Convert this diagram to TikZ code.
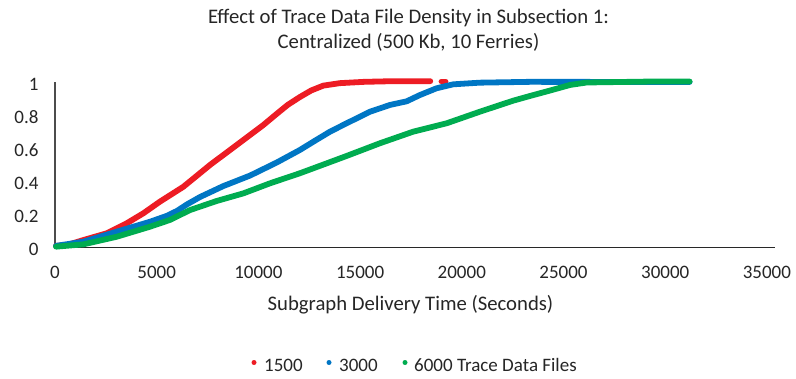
\documentclass[tikz,border=0pt]{standalone}
\usepackage{fontspec}
\setmainfont{Carlito}
\definecolor{serred}{RGB}{237,28,36}
\definecolor{serblue}{RGB}{0,118,196}
\definecolor{sergreen}{RGB}{0,172,80}
\definecolor{axisgray}{RGB}{40,40,40}
\begin{document}
\begin{tikzpicture}[x=1pt,y=1pt,
  lbl/.style={font=\fontsize{19}{22}\selectfont, text=black!85, inner sep=0pt},
  biglbl/.style={lbl, font=\fontsize{20.7}{24}\selectfont},
  series/.style={line width=5.8pt, line cap=round, line join=round},
  legdot/.style={circle, inner sep=0pt, minimum size=5pt}]
\useasboundingbox (0,0) rectangle (796,378);
\fill[white] (0,0) rectangle (796,378);

% title
\node[biglbl] (title1) at (408.5,360.5) {Effect of Trace Data File Density in Subsection 1:};
\node[biglbl] (title2) at (408.5,336) {Centralized (500 Kb, 10 Ferries)};

% plot area: x in thousands of seconds, y as a fraction
\begin{scope}[shift={(55,130.5)}, x=20.34pt, y=165pt]
  % axes
  \draw[line width=1.2pt, black!70] (0,0) -- (0,1.0);
  \draw[line width=1.8pt, axisgray] (0,0) -- (35.4,0);
  % y tick labels
  \foreach \v/\t [count=\i] in {0/0,0.2/0.2,0.4/0.4,0.6/0.6,0.8/0.8,1/1}
    \node[lbl, anchor=east] (yt\i) at (-0.8,\v-0.012) {\t};
  % x tick labels
  \node[lbl] (xt0) at (0,-0.15) {0};
  \foreach \v [count=\i] in {5,10,...,35}
    \node[lbl] (xt\i) at (\v,-0.15) {\v000};

  % 1500 trace data files
  \draw[series, serred] plot coordinates {
    (0.05,0.01) (0.6,0.015) (1.39,0.045) (2.54,0.086) (3.53,0.147) (4.34,0.207)
    (5.16,0.278) (6.31,0.368) (7.62,0.5) (8.93,0.621) (10.24,0.742) (10.9,0.81)
    (11.45,0.865) (12.04,0.912) (12.6,0.952) (13.19,0.981) (14.0,0.996)
    (15.2,1.004) (16.6,1.008) (18.45,1.008)};
  \draw[series, serred] (19.0,1.006) -- (19.2,1.006);

  % 3000 trace data files
  \draw[series, serblue] plot coordinates {
    (0.05,0.01) (1.39,0.035) (3.03,0.096) (4.67,0.156) (5.5,0.192) (6.0,0.222)
    (6.5,0.262) (7.13,0.306) (8.27,0.372) (9.59,0.436) (10.9,0.515) (12.04,0.591)
    (12.7,0.641) (13.52,0.702) (14.34,0.753) (15.49,0.823) (16.47,0.864)
    (17.29,0.886) (17.94,0.924) (18.76,0.965) (19.58,0.989) (20.89,0.999)
    (23.35,1.004) (31.2,1.003)};

  % 6000 trace data files
  \draw[series, sergreen] plot coordinates {
    (0.05,0.005) (1.39,0.019) (3.03,0.065) (4.67,0.126) (5.65,0.167) (6.64,0.227)
    (7.95,0.282) (9.26,0.328) (10.57,0.389) (12.04,0.45) (12.7,0.48) (14.34,0.555)
    (15.98,0.632) (17.61,0.702) (19.26,0.753) (20.89,0.823) (22.53,0.89)
    (23.4,0.92) (24.3,0.95) (25.32,0.985) (26.14,1.0) (29.4,1.006) (31.2,1.006)};
\end{scope}

% axis title
\node[biglbl] (xtitle) at (410.5,73) {Subgraph Delivery Time (Seconds)};

% legend
\node[legdot, fill=serred] (ld1) at (254,15.5) {};
\node[lbl, anchor=west] (lt1) at (264,13) {1500};
\node[legdot, fill=serblue] (ld2) at (329,15.5) {};
\node[lbl, anchor=west] (lt2) at (339,13) {3000};
\node[legdot, fill=sergreen] (ld3) at (405,15.5) {};
\node[lbl, anchor=west] (lt3) at (414,13) {6000 Trace Data Files};
\end{tikzpicture}
\end{document}
